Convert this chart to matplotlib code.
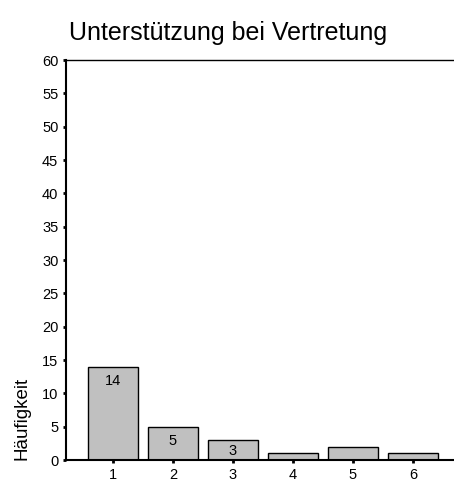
import matplotlib
matplotlib.use('Agg')
import matplotlib.pyplot as plt

categories = [1, 2, 3, 4, 5, 6]
counts = [14, 5, 3, 1, 2, 1]
yticks = list(range(0, 65, 5))

plt.rcParams['font.family'] = ['Liberation Sans', 'DejaVu Sans']

fig = plt.figure(figsize=(4.54, 4.82), dpi=100)
ax = fig.add_axes([66 / 454, 1 - 460 / 482, (454 - 66) / 454, 400 / 482])

ax.bar(categories, counts, width=0.833, color='#c0c0c0', edgecolor='black', linewidth=1.0)

# Werte in den Balken (nur wenn genug Platz), nicht tiefer als knapp über der Achse
for x, v in zip(categories, counts):
    if v >= 3:
        ax.text(x, max(v - 2.2, 1.35), str(v), ha='center', va='center', fontsize=10.5)

ax.set_xlim(0.217, 6.683)
ax.set_ylim(0, 60)
ax.set_xticks(categories)
ax.set_yticks(yticks)
ax.tick_params(axis='both', direction='out', length=2.5, width=2, labelsize=10.5, pad=3)

ax.spines['right'].set_visible(False)
ax.spines['left'].set_linewidth(1.5)
ax.spines['bottom'].set_linewidth(1.5)
ax.spines['top'].set_linewidth(1.0)

ax.set_ylabel('Häufigkeit', loc='bottom', fontsize=13.5, labelpad=8)
fig.text(228 / 454, 1 - 33 / 482, 'Unterstützung bei Vertretung', ha='center', va='center', fontsize=18)

fig.savefig('out.png', dpi=100)
